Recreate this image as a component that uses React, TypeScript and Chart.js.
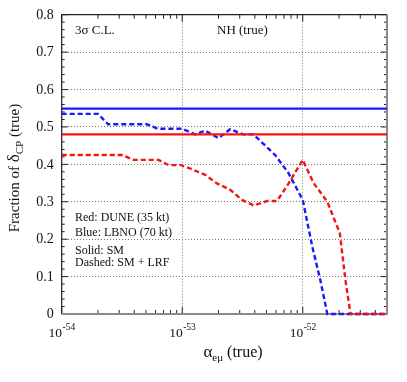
import React, { useEffect, useRef } from 'react';
import { Chart, registerables } from 'chart.js';

Chart.register(...registerables);

const X_MIN = 1e-54;
const X_MAX = 5e-52;
const xDecades = [1e-54, 1e-53, 1e-52];
const xTickExponents = ['-54', '-53', '-52'];
const yGridValues = [0.1, 0.2, 0.3, 0.4, 0.5, 0.6, 0.7];
const yTickValues = [0, 0.1, 0.2, 0.3, 0.4, 0.5, 0.6, 0.7, 0.8];
const yTickLabels = ['0', '0.1', '0.2', '0.3', '0.4', '0.5', '0.6', '0.7', '0.8'];

const solidX = [1e-54, 5e-52];
const blueSolidY = [0.549, 0.549];
const redSolidY = [0.48, 0.48];

const blueDashedX = [1e-54, 2.0e-54, 2.43e-54, 5.1e-54, 6.3e-54, 1.0e-53, 1.28e-53, 1.55e-53, 2.0e-53, 2.5e-53, 3.2e-53, 3.9e-53, 5.9e-53, 7.6e-53, 1.0e-52, 1.2e-52, 1.4e-52, 1.6e-52, 5e-52];
const blueDashedY = [0.535, 0.535, 0.507, 0.507, 0.495, 0.495, 0.48, 0.49, 0.47, 0.494, 0.48, 0.48, 0.425, 0.377, 0.305, 0.18, 0.09, 0, 0];

const redDashedX = [1e-54, 3.16e-54, 3.94e-54, 6.35e-54, 7.7e-54, 9.8e-54, 1.2e-53, 1.55e-53, 1.94e-53, 2.5e-53, 3.13e-53, 3.92e-53, 5.06e-53, 6.12e-53, 7.66e-53, 1.0e-52, 1.23e-52, 1.6e-52, 2.03e-52, 2.26e-52, 2.49e-52, 5e-52];
const redDashedY = [0.425, 0.425, 0.412, 0.412, 0.398, 0.398, 0.387, 0.372, 0.349, 0.332, 0.305, 0.29, 0.302, 0.302, 0.35, 0.412, 0.35, 0.30, 0.216, 0.09, 0, 0];

const BLUE = 'rgb(25,25,255)';
const RED = 'rgb(245,20,20)';
const SERIF = '"Liberation Serif", "DejaVu Serif", serif';

const pts = (xs: number[], ys: number[]) => xs.map((x, i) => ({ x, y: ys[i] }));

const framePlugin = {
  id: 'frame',
  beforeDatasetsDraw(chart: any) {
    const { ctx, chartArea: a, scales } = chart;
    const xs = scales.x;
    const ys = scales.y;
    ctx.save();
    ctx.strokeStyle = '#222';
    ctx.lineWidth = 1;
    for (let n = -54; n <= -52; n++) {
      for (let k = 1; k <= 9; k++) {
        const v = k * Math.pow(10, n);
        if (v > X_MAX * 1.0001) continue;
        const px = xs.getPixelForValue(v);
        const len = k === 1 ? 7 : 4;
        ctx.beginPath();
        ctx.moveTo(px, a.bottom);
        ctx.lineTo(px, a.bottom - len);
        ctx.moveTo(px, a.top);
        ctx.lineTo(px, a.top + len);
        ctx.stroke();
      }
    }
    for (let i = 0; i <= 40; i++) {
      const v = i * 0.02;
      const py = ys.getPixelForValue(v);
      const len = i % 5 === 0 ? 6 : 3;
      ctx.beginPath();
      ctx.moveTo(a.left, py);
      ctx.lineTo(a.left + len, py);
      ctx.moveTo(a.right, py);
      ctx.lineTo(a.right - len, py);
      ctx.stroke();
    }
    ctx.strokeStyle = '#222';
    ctx.lineWidth = 1.2;
    ctx.beginPath();
    ctx.moveTo(a.left, a.bottom);
    ctx.lineTo(a.left, a.top);
    ctx.lineTo(a.right, a.top);
    ctx.stroke();
    ctx.strokeStyle = '#8a8a8a';
    ctx.lineWidth = 2;
    ctx.beginPath();
    ctx.moveTo(a.left, a.bottom);
    ctx.lineTo(a.right, a.bottom);
    ctx.lineTo(a.right, a.top);
    ctx.stroke();
    ctx.restore();
  },
  afterDraw(chart: any) {
    const { ctx, chartArea: a, scales } = chart;
    const xs = scales.x;
    const ys = scales.y;
    ctx.save();
    ctx.fillStyle = '#111';
    ctx.font = `14px ${SERIF}`;
    ctx.textAlign = 'right';
    ctx.textBaseline = 'middle';
    yTickValues.forEach((v, i) => {
      ctx.fillText(yTickLabels[i], a.left - 8, ys.getPixelForValue(v) + 0.5);
    });
    ctx.textAlign = 'left';
    ctx.textBaseline = 'alphabetic';
    xDecades.forEach((v, i) => {
      const px = xs.getPixelForValue(v);
      ctx.font = `13.5px ${SERIF}`;
      const w1 = ctx.measureText('10').width;
      ctx.font = `9.5px ${SERIF}`;
      const w2 = ctx.measureText(xTickExponents[i]).width;
      const start = px - (w1 + w2) / 2;
      ctx.font = `13.5px ${SERIF}`;
      ctx.fillText('10', start, 337);
      ctx.font = `9.5px ${SERIF}`;
      ctx.fillText(xTickExponents[i], start + w1 + 0.5, 330);
    });
    {
      const parts = [
        { t: 'α', f: 17, dy: 0 },
        { t: 'eμ', f: 11, dy: 4 },
        { t: ' (true)', f: 16, dy: 0 },
      ];
      let total = 0;
      parts.forEach((p) => { ctx.font = `${p.f}px ${SERIF}`; total += ctx.measureText(p.t).width; });
      let x = 233 - total / 2;
      parts.forEach((p) => {
        ctx.font = `${p.f}px ${SERIF}`;
        ctx.fillText(p.t, x, 357 + p.dy);
        x += ctx.measureText(p.t).width;
      });
    }
    {
      const parts = [
        { t: 'Fraction of ', f: 15, dy: 0 },
        { t: 'δ', f: 17, dy: 0 },
        { t: 'CP', f: 11, dy: 4 },
        { t: ' (true)', f: 15, dy: 0 },
      ];
      let total = 0;
      parts.forEach((p) => { ctx.font = `${p.f}px ${SERIF}`; total += ctx.measureText(p.t).width; });
      ctx.save();
      ctx.translate(19, 168);
      ctx.rotate(-Math.PI / 2);
      let x = -total / 2;
      parts.forEach((p) => {
        ctx.font = `${p.f}px ${SERIF}`;
        ctx.fillText(p.t, x, p.dy);
        x += ctx.measureText(p.t).width;
      });
      ctx.restore();
    }
    ctx.font = `13px ${SERIF}`;
    ctx.fillText('3σ C.L.', 75, 34);
    ctx.fillText('NH (true)', 217, 34);
    ctx.font = `12px ${SERIF}`;
    ctx.fillText('Red: DUNE (35 kt)', 75, 221);
    ctx.fillText('Blue: LBNO (70 kt)', 75, 236);
    ctx.fillText('Solid: SM', 75, 254);
    ctx.fillText('Dashed: SM + LRF', 75, 265.5);
    ctx.restore();
  },
};

export default function App() {
  const ref = useRef<HTMLCanvasElement | null>(null);
  useEffect(() => {
    document.body.style.margin = '0';
    const canvas = ref.current;
    if (!canvas) return;
    const chart = new Chart(canvas, {
      type: 'line',
      data: {
        datasets: [
          { data: pts(solidX, redSolidY), borderColor: RED, borderWidth: 2.2, pointRadius: 0, clip: 4 } as any,
          { data: pts(solidX, blueSolidY), borderColor: BLUE, borderWidth: 2.2, pointRadius: 0, clip: 4 } as any,
          { data: pts(redDashedX, redDashedY), borderColor: RED, borderWidth: 2.4, borderDash: [5, 3], pointRadius: 0, clip: 4 } as any,
          { data: pts(blueDashedX, blueDashedY), borderColor: BLUE, borderWidth: 2.4, borderDash: [5, 3], pointRadius: 0, clip: 4 } as any,
        ],
      },
      options: {
        responsive: false,
        animation: false,
        devicePixelRatio: 1,
        layout: { padding: { left: 0, top: 14.7, right: 20, bottom: 0 } },
        plugins: { legend: { display: false }, tooltip: { enabled: false } },
        elements: { line: { tension: 0 } },
        scales: {
          x: {
            type: 'logarithmic',
            min: X_MIN,
            max: X_MAX,
            afterBuildTicks: (s: any) => { s.ticks = xDecades.map((v) => ({ value: v })); },
            afterFit: (s: any) => { s.height = 68; },
            ticks: { display: false },
            grid: { color: '#777', lineWidth: 1, drawTicks: false },
            border: { display: false, dash: [1, 2] },
          },
          y: {
            type: 'linear',
            min: 0,
            max: 0.8,
            afterBuildTicks: (s: any) => { s.ticks = yGridValues.map((v) => ({ value: v })); },
            afterFit: (s: any) => { s.width = 61.7; },
            ticks: { display: false },
            grid: { color: '#777', lineWidth: 1, drawTicks: false },
            border: { display: false, dash: [1, 2] },
          },
        },
      } as any,
      plugins: [framePlugin],
    });
    return () => chart.destroy();
  }, []);
  return <canvas ref={ref} width={407} height={382} style={{ display: 'block', width: 407, height: 382 }} />;
}
